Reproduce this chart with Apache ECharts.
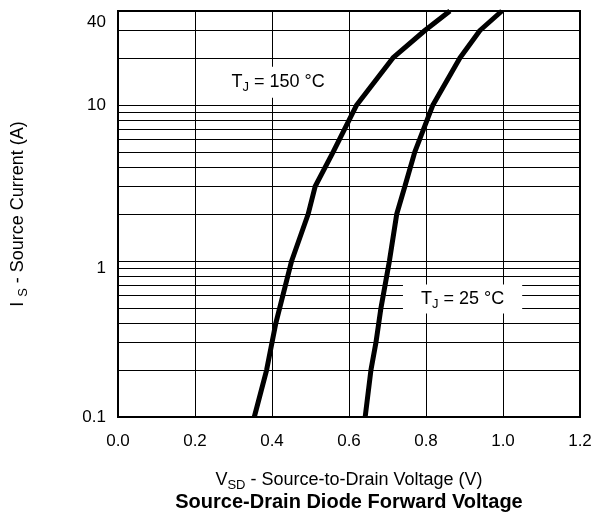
<!DOCTYPE html>
<html>
<head>
<meta charset="utf-8">
<script src="https://cdn.jsdelivr.net/npm/echarts@6/dist/echarts.min.js"></script>
<style>
html, body { margin: 0; padding: 0; background: #fff; }
#main { width: 595px; height: 513px; }
</style>
</head>
<body>
<div id="main"></div>
<script>
// curve values (V, A)
var vsd_150 = [0.354, 0.386, 0.410, 0.451, 0.494, 0.512, 0.559, 0.620, 0.714, 0.797, 0.862];
var is_150  = [0.1,   0.2,   0.4,   1,     2,     3,     5,     10,    20,    30,    40];
var vsd_25  = [0.642, 0.657, 0.670, 0.683, 0.705, 0.724, 0.745, 0.771, 0.818, 0.888, 0.940, 0.997];
var is_25   = [0.1,   0.2,   0.3,   0.5,   1,     2,     3,     5,     10,    20,    30,    40];

// horizontal log grid lines
var y_grid = [0.2, 0.3, 0.4, 0.5, 0.6, 0.7, 0.8, 0.9, 1, 2, 3, 4, 5, 6, 7, 8, 9, 10, 20, 30];

var font = "'Liberation Sans', Arial, sans-serif";

function pairs(xs, ys) {
	var out = [];
	for (var i = 0; i < xs.length; i++) out.push([xs[i], ys[i]]);
	return out;
}

var sub_rich = {
	t: { fontFamily: font, fontSize: 18, color: '#000' },
	s: { fontFamily: font, fontSize: 13, color: '#000', padding: [10, 0, 0, 0] }
};

var chart = echarts.init(document.getElementById('main'));
chart.setOption({
	animation: false,
	title: {
		text: 'Source-Drain Diode Forward Voltage',
		left: 344,
		top: 487,
		textAlign: 'center',
		textStyle: { fontFamily: font, fontSize: 20, fontWeight: 'bold', color: '#000' }
	},
	grid: {
		left: 118, right: 15, top: 11, bottom: 96,
		show: true, borderColor: '#000', borderWidth: 2
	},
	xAxis: {
		type: 'value',
		min: 0, max: 1.2, interval: 0.2,
		name: '{t|V}{s|SD}{t| - Source-to-Drain Voltage (V)}',
		nameLocation: 'middle',
		nameGap: 52,
		nameTextStyle: { rich: sub_rich },
		axisLine: { show: false },
		axisTick: { show: false },
		axisLabel: {
			margin: 16,
			fontFamily: font, fontSize: 17, color: '#000',
			formatter: function (v) { return v.toFixed(1); }
		},
		splitLine: { show: true, lineStyle: { color: '#000', width: 1 } }
	},
	yAxis: {
		type: 'log',
		logBase: 10,
		min: 0.1, max: 40,
		name: '{t|I }{s|S}{t| - Source Current (A)}',
		nameLocation: 'middle',
		nameGap: 88,
		nameTextStyle: { rich: sub_rich },
		axisLine: { show: false },
		axisTick: { show: false },
		splitLine: { show: false },
		axisLabel: {
			margin: 12,
			fontFamily: font, fontSize: 17, color: '#000',
			formatter: function (v) {
				if (Math.abs(v - 40) < 0.01) return '{low|40}';
				if (Math.abs(v - 1) < 0.001) return '{mid|1}';
				return String(v);
			},
			rich: {
				low: { fontFamily: font, fontSize: 17, color: '#000', padding: [22, 0, 0, 0] },
				mid: { fontFamily: font, fontSize: 17, color: '#000', padding: [14, 0, 0, 0] }
			}
		}
	},
	series: [
		{
			name: 'grid',
			type: 'line',
			data: [],
			silent: true,
			markLine: {
				z: 1,
				silent: true,
				symbol: 'none',
				label: { show: false },
				lineStyle: { color: '#000', width: 1, type: 'solid' },
				data: y_grid.map(function (v) { return { yAxis: v }; })
			}
		},
		{
			name: 'TJ = 150 °C',
			type: 'line',
			z: 3,
			symbol: 'none',
			lineStyle: { color: '#000', width: 5 },
			data: pairs(vsd_150, is_150),
			markPoint: {
				z: 6,
				symbol: 'circle',
				symbolSize: 0,
				data: [{
					coord: [0.416, 14],
					label: {
						show: true, position: 'inside',
						formatter: '{t|T}{s|J}{t| = 150 °C}',
						backgroundColor: '#fff',
						padding: [4, 4],
						rich: sub_rich
					}
				}]
			}
		},
		{
			name: 'TJ = 25 °C',
			type: 'line',
			z: 3,
			symbol: 'none',
			lineStyle: { color: '#000', width: 5 },
			data: pairs(vsd_25, is_25),
			markPoint: {
				z: 6,
				symbol: 'circle',
				symbolSize: 0,
				data: [{
					coord: [0.895, 0.57],
					label: {
						show: true, position: 'inside',
						formatter: '{t|T}{s|J}{t| = 25 °C}',
						backgroundColor: '#fff',
						padding: [3, 18],
						rich: sub_rich
					}
				}]
			}
		}
	]
});
</script>
</body>
</html>
